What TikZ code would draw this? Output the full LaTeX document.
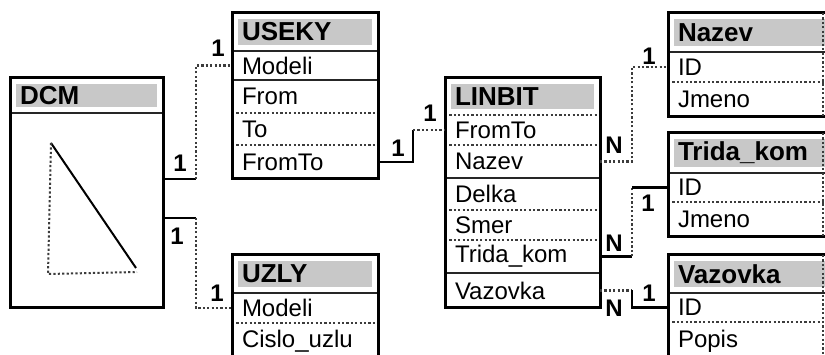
\documentclass[tikz,border=0pt]{standalone}
\usepackage{fontspec}
\setmainfont{Liberation Sans}
\usetikzlibrary{calc,fit}
\definecolor{hdrgray}{RGB}{200,200,200}
\definecolor{dotgray}{RGB}{60,60,60}
\newcommand\trow[7]{%
 \pgfmathsetmacro\tw{#4-20}%
 \node[#6, anchor=north west, text width=\tw pt, minimum width=#4pt, minimum height=#5pt] (#1) at (#2,#3) {#7};}
\begin{document}
\begin{tikzpicture}[x=1pt,y=-1pt,
  rowbox/.style={inner xsep=10pt, inner ysep=0pt, outer sep=0pt, align=left, font=\fontsize{24}{26}\selectfont},
  hdrbox/.style={inner xsep=10pt, inner ysep=0pt, outer sep=0pt, align=left, fill=hdrgray, draw=white, line width=12pt, font=\bfseries\fontsize{26}{28}\selectfont},
  frame/.style={draw=black, line width=3pt, inner sep=0pt, outer sep=0pt},
  sepsolid/.style={draw=black!85, line width=2.6pt},
  sepdot/.style={draw=dotgray, line width=2.2pt, dash pattern=on 2.2pt off 2.2pt},
  consolid/.style={draw=black, line width=2.2pt},
  condot/.style={draw=dotgray, line width=2.2pt, dash pattern=on 2.2pt off 2.2pt},
  card/.style={font=\bfseries\fontsize{24}{24}\selectfont, inner sep=0pt}
]
\useasboundingbox (0,0) rectangle (825,355);
\clip (0,0) rectangle (825,355);
% headers
\trow{dcm-h}{10}{78}{153}{35}{hdrbox}{DCM}
\trow{use-h}{232}{13}{146}{38}{hdrbox}{USEKY}
\trow{uz-h}{232}{255}{146}{38}{hdrbox}{UZLY}
\trow{lin-h}{445}{78}{155}{37}{hdrbox}{LINBIT}
\trow{naz-h}{668}{13}{170}{39}{hdrbox}{Nazev}
\trow{tri-h}{668}{133}{170}{40}{hdrbox}{Trida\_kom}
\trow{vaz-h}{668}{255}{170}{38}{hdrbox}{Vazovka}
% rows
\trow{dcm-b}{10}{113}{153}{195}{rowbox}{}
\trow{use-1}{232}{51}{146}{29}{rowbox}{Modeli}
\trow{use-2}{232}{80}{146}{33}{rowbox}{From}
\trow{use-3}{232}{113}{146}{32}{rowbox}{To}
\trow{use-4}{232}{145}{146}{34}{rowbox}{FromTo}
\trow{uz-1}{232}{293}{146}{30}{rowbox}{Modeli}
\trow{uz-2}{232}{323}{146}{37}{rowbox}{Cislo\_uzlu}
\trow{lin-1}{445}{115}{155}{30}{rowbox}{FromTo}
\trow{lin-2}{445}{145}{155}{33}{rowbox}{Nazev}
\trow{lin-3}{445}{178}{155}{32}{rowbox}{Delka}
\trow{lin-4}{445}{210}{155}{30}{rowbox}{Smer}
\trow{lin-5}{445}{240}{155}{33}{rowbox}{Trida\_kom}
\trow{lin-6}{445}{273}{155}{35}{rowbox}{Vazovka}
\trow{naz-1}{668}{52}{170}{30}{rowbox}{ID}
\trow{naz-2}{668}{82}{170}{35}{rowbox}{Jmeno}
\trow{tri-1}{668}{173}{170}{29}{rowbox}{ID}
\trow{tri-2}{668}{202}{170}{35}{rowbox}{Jmeno}
\trow{vaz-1}{668}{293}{170}{29}{rowbox}{ID}
\trow{vaz-2}{668}{322}{170}{38}{rowbox}{Popis}
% separators
\foreach \n in {dcm-h,use-h,use-1,uz-h,lin-2,lin-5,naz-h,tri-h,vaz-h}
  \draw[sepsolid] (\n.south west) -- (\n.south east);
\foreach \n in {use-2,use-3,uz-1,lin-h,lin-1,lin-3,lin-4,naz-1,tri-1,vaz-1}
  \draw[sepdot] (\n.south west) -- (\n.south east);
% frames
\node[frame, fit=(dcm-h)(dcm-b)] (dcm) {};
\node[frame, fit=(use-h)(use-4)] (useky) {};
\node[frame, fit=(uz-h)(uz-2)] (uzly) {};
\node[frame, fit=(lin-h)(lin-6)] (linbit) {};
\node[frame, fit=(naz-h)(naz-2)] (nazev) {};
\node[frame, fit=(tri-h)(tri-2)] (trida) {};
\node[frame, fit=(vaz-h)(vaz-2)] (vazovka) {};
% right edge of the clipped tables, as in the reference
\draw[sepdot] (823,13) -- (823,117);
\draw[sepdot] (823,133) -- (823,237);
\draw[sepdot] (823,255) -- (823,355);
% triangle inside DCM
\draw[consolid, line width=2pt] (51,143) -- (136,268);
\draw[condot, line width=2pt] (51,143) -- (48,274) -- (137,272);
% connectors
\draw[consolid] ($(dcm-b.north east)+(0,66)$) coordinate (d1) -- ++(33,0) coordinate (k1);
\draw[condot] (k1) |- (use-1.west);
\draw[consolid] ($(dcm-b.north east)+(0,105)$) coordinate (d2) -- ++(33,0) coordinate (k2);
\draw[condot] (k2) |- (uz-1.west);
\draw[consolid] (use-4.east) -- ++(35,0) coordinate (k3) -- (k3 |- lin-1.west) coordinate (k3b);
\draw[condot] (k3b) -- (lin-1.west);
\draw[condot] (lin-2.east) -- ++(32,0) coordinate (k4) |- (naz-1.west);
\draw[consolid] (lin-5.east) -- ++(32,0) coordinate (k5);
\draw[condot] (k5) -- (k5 |- tri-1.west) coordinate (k5b);
\draw[consolid] (k5b) -- (tri-1.west);
\draw[condot] (lin-6.east) -- ++(32,0) coordinate (k6);
\draw[consolid] (k6) |- (vaz-1.west);
% cardinalities
\node[card] (l1) at (180,163) {1};
\node[card] (l2) at (218,48) {1};
\node[card] (l3) at (177,236) {1};
\node[card] (l4) at (217,293) {1};
\node[card] (l5) at (398,148) {1};
\node[card] (l6) at (430,113) {1};
\node[card] (l7) at (614,145) {N};
\node[card] (l8) at (649,56) {1};
\node[card] (l9) at (614,243) {N};
\node[card] (l10) at (648,203) {1};
\node[card] (l11) at (614,308) {N};
\node[card] (l12) at (649,293) {1};
\end{tikzpicture}
\end{document}
